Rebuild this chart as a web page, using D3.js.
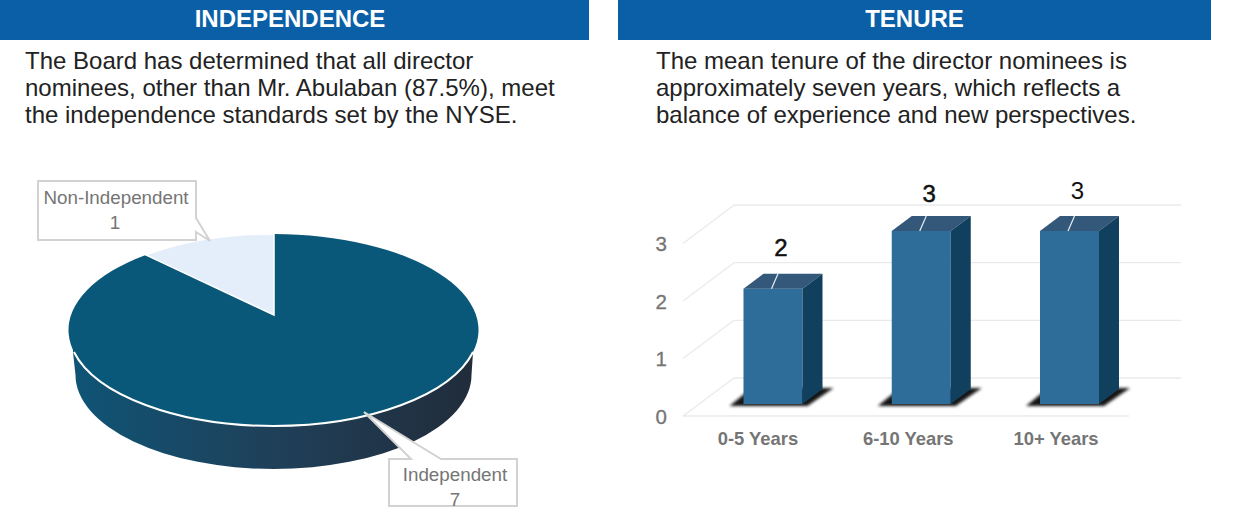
<!DOCTYPE html>
<html><head><meta charset="utf-8">
<script src="https://cdn.jsdelivr.net/npm/d3@7"></script>
<style>html,body{margin:0;padding:0;background:#fff}svg{display:block}text{font-family:"Liberation Sans",Arial,sans-serif}</style>
</head><body><svg id="c" width="1234" height="518"></svg>
<script>
const headers=["INDEPENDENCE","TENURE"];
const bodyLeft=["The Board has determined that all director","nominees, other than Mr. Abulaban (87.5%), meet","the independence standards set by the NYSE."];
const bodyRight=["The mean tenure of the director nominees is","approximately seven years, which reflects a","balance of experience and new perspectives."];
const pieLabels=["Non-Independent","Independent"];
const pieValues=[1,7];
const barCats=["0-5 Years","6-10 Years","10+ Years"];
const barVals=[2,3,3];
const yTicks=[0,1,2,3];

const svg=d3.select("#c");
const defs=svg.append("defs");
const grad=defs.append("linearGradient").attr("id","side").attr("gradientUnits","userSpaceOnUse").attr("x1",72).attr("x2",474).attr("y1",0).attr("y2",0);
[[0,"#0f5476"],[0.5,"#1f4059"],[1,"#212c3b"]].forEach(s=>grad.append("stop").attr("offset",s[0]).attr("stop-color",s[1]));
const blur=defs.append("filter").attr("id","sh").attr("x","-20%").attr("y","-50%").attr("width","140%").attr("height","200%");
blur.append("feGaussianBlur").attr("stdDeviation",1.4);

[[0,589],[618,593]].forEach((b,i)=>{
  svg.append("rect").attr("x",b[0]).attr("y",0).attr("width",b[1]).attr("height",40).attr("fill","#0a5fa6");
  svg.append("text").attr("x",b[0]+b[1]/2-4.5+(i?4.5:0)).attr("y",27).attr("text-anchor","middle").attr("font-size",24).attr("font-weight","bold").attr("fill","#fff").text(headers[i]);
});
bodyLeft.forEach((t,i)=>svg.append("text").attr("x",25).attr("y",68.5+i*27).attr("font-size",24).attr("fill","#222").text(t));
bodyRight.forEach((t,i)=>svg.append("text").attr("x",656).attr("y",68.5+i*27).attr("font-size",24).attr("fill","#222").text(t));

// ---- PIE ----
const E={cx:273.5,cy:330,rx:205,ry:96}, apex={x:274,y:315};
const L={cx:273.5,cy:375,rx:198,ry:94};
const total=d3.sum(pieValues);
const ang=d3.scaleLinear().domain([0,total]).range([0,2*Math.PI]);
function rim(theta){
  const k=E.ry/E.rx, dx=Math.sin(theta), dy=-Math.cos(theta)*k;
  const ox=(apex.x-E.cx)/E.rx, oy=(apex.y-E.cy)/E.ry, ux=dx/E.rx, uy=dy/E.ry;
  const a=ux*ux+uy*uy,b=2*(ox*ux+oy*uy),c=ox*ox+oy*oy-1;
  const t=(-b+Math.sqrt(b*b-4*a*c))/(2*a);
  return [apex.x+t*dx,apex.y+t*dy];
}
const p0=rim(-ang(pieValues[0])), p1=rim(0);
const gPie=svg.append("g");
const edgeY=352, edgeDx=E.rx*Math.sqrt(1-Math.pow((edgeY-E.cy)/E.ry,2));
gPie.append("path").attr("fill","url(#side)")
 .attr("d",`M${E.cx-edgeDx-1},${edgeY-6} L${E.cx-edgeDx-1},${edgeY} L${L.cx-L.rx},${L.cy} A${L.rx},${L.ry} 0 0 0 ${L.cx+L.rx},${L.cy} L${E.cx+edgeDx},${edgeY} L${E.cx+edgeDx},${edgeY-6} Z`);
gPie.append("path").attr("fill","#0a5879")
 .attr("d",`M${apex.x},${apex.y} L${p0[0]},${p0[1]} A${E.rx},${E.ry} 0 1 0 ${p1[0]},${p1[1]} Z`);
gPie.append("path").attr("fill","none").attr("stroke","#fff").attr("stroke-width",2)
 .attr("d",`M${E.cx-edgeDx},${edgeY} A${E.rx},${E.ry} 0 0 0 ${E.cx+edgeDx},${edgeY}`);
gPie.append("path").attr("fill","#e3eefa").attr("stroke","#fff").attr("stroke-width",1.5)
 .attr("d",`M${apex.x},${apex.y} L${p0[0]},${p0[1]} A${E.rx},${E.ry} 0 0 1 ${p1[0]},${p1[1]} Z`);

const labelC="#757575";
function callout(x,y,w,h,tip,base){
  let d;
  if(base.side==="right") d=`M${x},${y}H${x+w}V${base.a}L${tip[0]},${tip[1]}L${x+w},${base.b}V${y+h}H${x}Z`;
  else d=`M${x},${y}H${base.a}L${tip[0]},${tip[1]}L${base.b},${y}H${x+w}V${y+h}H${x}Z`;
  svg.append("path").attr("d",d).attr("fill","#fff").attr("stroke","#d2d2d2").attr("stroke-width",2);
}
function lbl(x,y,t){svg.append("text").attr("x",x).attr("y",y).attr("text-anchor","middle").attr("font-size",18.8).attr("fill",labelC).text(t);}
callout(38,181,158,59,[210,241],{side:"right",a:218,b:232});
lbl(116,204,pieLabels[0]); lbl(115,229,String(pieValues[0]));
callout(389,459,128,47,[364,412],{side:"top",a:411,b:441});
lbl(455,481,pieLabels[1]); lbl(455,506,String(pieValues[1]));

// ---- BARS ----
const depth={x:51,y:-38.5};
const barDepth={x:20,y:-15};
const yFront=d3.scaleLinear().domain([0,3]).range([416,243.5]);
const yBack=d3.scaleLinear().domain([0,3]).range([378,205]);
const yBar=d3.scaleLinear().domain([0,3]).range([404,231]);
const xPos=d3.scalePoint().domain(barCats).range([773,1069.5]);
const catShift=[-15,-13,-13.5], valShift=[-2,2,-1], valWeight=[0.5,0.5,0];
const g=svg.append("g");
const gridC="#e9eaec";
yTicks.forEach(t=>{
  g.append("line").attr("x1",683).attr("y1",yFront(t)).attr("x2",683+depth.x).attr("y2",yBack(t)).attr("stroke",gridC).attr("stroke-width",1.2);
  g.append("line").attr("x1",683+depth.x).attr("y1",yBack(t)).attr("x2",1181).attr("y2",yBack(t)).attr("stroke",gridC).attr("stroke-width",1.4);
  g.append("text").attr("x",667).attr("y",yFront(t)+7.5).attr("text-anchor","end").attr("font-size",20.5).attr("fill",labelC).attr("stroke",labelC).attr("stroke-width",0.3).text(t);
});
g.append("line").attr("x1",683).attr("y1",416).attr("x2",1129).attr("y2",416).attr("stroke",gridC).attr("stroke-width",1.4);
const bw=59;
barCats.forEach((c,i)=>{
  const cx=xPos(c),l=cx-bw/2,r=cx+bw/2,b=yBar(0),t=yBar(barVals[i]);
  g.append("path").attr("filter","url(#sh)").attr("fill","#141414").attr("d",`M${l-14},${b+2}L${l+8},${b-16}H${r+31}L${r+5},${b+2}Z`);
  g.append("rect").attr("x",l).attr("y",t).attr("width",bw).attr("height",b-t).attr("fill","#2e6d99");
  g.append("path").attr("fill","#33587a").attr("d",`M${l},${t}L${l+barDepth.x},${t+barDepth.y}H${r+barDepth.x}L${r},${t}Z`);
  g.append("path").attr("fill","#113f5e").attr("d",`M${r},${t}L${r+barDepth.x},${t+barDepth.y}V${b+barDepth.y}L${r},${b}Z`);
  g.append("line").attr("x1",cx-1.5).attr("y1",t).attr("x2",cx+5).attr("y2",t-15).attr("stroke","#e8eef3").attr("stroke-width",1.2);
  g.append("text").attr("x",cx+8).attr("y",t-31+valShift[i]).attr("text-anchor","middle").attr("font-size",24).attr("fill","#111").attr("stroke","#111").attr("stroke-width",valWeight[i]).text(barVals[i]);
  g.append("text").attr("x",cx+catShift[i]).attr("y",445).attr("text-anchor","middle").attr("font-size",18.4).attr("font-weight","bold").attr("fill",labelC).text(c);
});
</script></body></html>
